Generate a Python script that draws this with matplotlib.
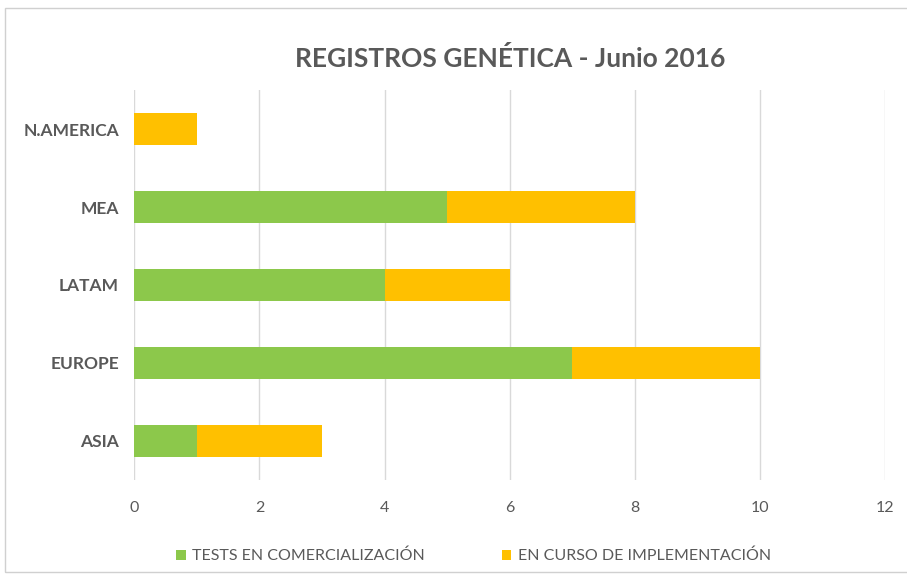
import matplotlib.pyplot as plt
from matplotlib.patches import Rectangle

# Data
regions = ["ASIA", "EUROPE", "LATAM", "MEA", "N.AMERICA"]
tests_comercializacion = [1, 7, 4, 5, 0]
en_curso_implementacion = [2, 3, 2, 3, 1]
series_labels = ["TESTS EN COMERCIALIZACIÓN", "EN CURSO DE IMPLEMENTACIÓN"]
x_ticks = [0, 2, 4, 6, 8, 10, 12]

GREEN = "#8cc84b"
YELLOW = "#ffc000"
TEXT = "#595959"

plt.rcParams["font.family"] = ["Lato", "DejaVu Sans"]

fig = plt.figure(figsize=(9.07, 5.74), dpi=100)
ax = fig.add_axes([0.148, 0.164, 0.828, 0.679])

# Stacked horizontal bars
ax.barh(regions, tests_comercializacion, height=0.41, color=GREEN,
        label=series_labels[0])
ax.barh(regions, en_curso_implementacion, height=0.41,
        left=tests_comercializacion, color=YELLOW, label=series_labels[1])

ax.set_xlim(0, 12)
ax.set_ylim(-0.5, 4.5)
ax.set_xticks(x_ticks)
ax.grid(axis="x", color="#d9d9d9", linewidth=1)
ax.set_axisbelow(True)
for s in ax.spines.values():
    s.set_visible(False)
ax.tick_params(axis="both", length=0)
ax.tick_params(axis="x", labelsize=11.5, labelcolor=TEXT, pad=15)
ax.tick_params(axis="y", labelsize=12.5, labelcolor=TEXT, pad=11)
for lbl in ax.get_yticklabels():
    lbl.set_fontweight("bold")

fig.text(0.563, 0.898, "REGISTROS GENÉTICA - Junio 2016", ha="center",
         va="center", fontsize=19, fontweight="bold", color=TEXT)

fig.legend(loc="center", bbox_to_anchor=(0.522, 0.031), ncol=2, frameon=False,
           fontsize=11.5, labelcolor=TEXT, handlelength=0.6, handleheight=0.6,
           handletextpad=0.4, columnspacing=4.8)

# Chart border
fig.patches.append(Rectangle((0.006, 0.004), 1.1, 0.982, transform=fig.transFigure,
                             fill=False, edgecolor="#d0d0d0", linewidth=1))

fig.savefig("out.png", dpi=100)
